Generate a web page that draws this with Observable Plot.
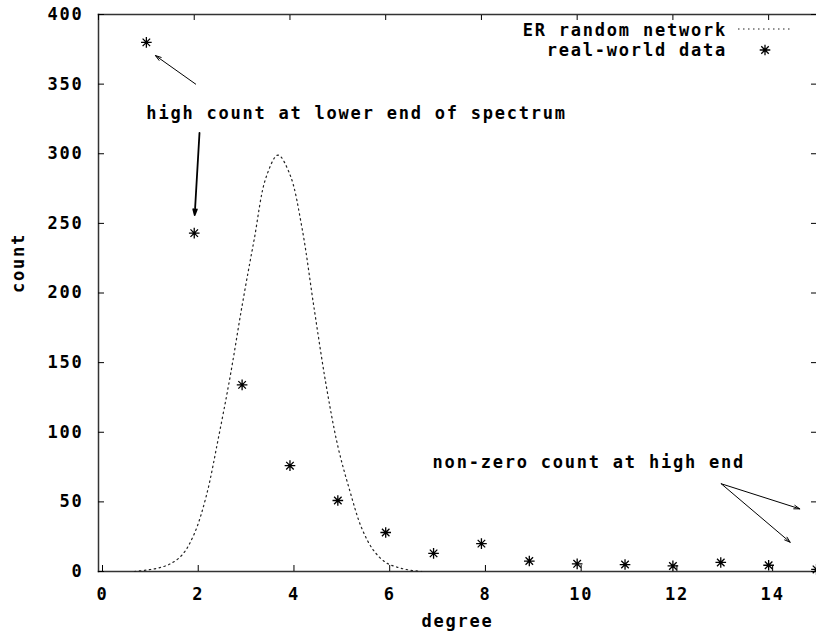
<!DOCTYPE html>
<html>
<head>
<meta charset="utf-8">
<script src="https://cdn.jsdelivr.net/npm/d3@7"></script>
<script src="https://cdn.jsdelivr.net/npm/@observablehq/plot@0.6"></script>
<style>
  html, body { margin: 0; padding: 0; background: white; }
</style>
</head>
<body>
<div id="chart"></div>
<script>
// ---- data ----
const degrees = [1, 2, 3, 4, 5, 6, 7, 8, 9, 10, 11, 12, 13, 14, 15];
const counts  = [380, 243, 134, 76, 51, 28, 13, 20, 7.5, 5.5, 5, 4, 6.5, 4.5, 1.5];

const erX = [0.75, 1.0, 1.25, 1.5, 1.75, 2.0, 2.25, 2.5, 2.75, 3.0, 3.25, 3.5, 3.75, 4.0, 4.25, 4.5, 4.75, 5.0, 5.25, 5.5, 5.75, 6.0, 6.25, 6.5, 6.75];
const erY = [0, 1, 2.5, 5.5, 12, 27, 54, 95, 140, 191, 238, 283, 299, 285, 247, 190, 135, 90, 58, 31, 15, 6.5, 3, 1, 0];

const xTicks = [0, 2, 4, 6, 8, 10, 12, 14];
const yTicks = [0, 50, 100, 150, 200, 250, 300, 350, 400];

const seriesNames = ["ER random network", "real-world data"];

const annoTexts = ["high count at lower end of spectrum", "non-zero count at high end"];
const annoX = [1, 6.98];
const annoY = [329, 78.5];

const arrowX1 = [2.03, 2.11, 13.01, 13.01];
const arrowY1 = [350, 315, 63, 63];
const arrowX2 = [1.19, 2.01, 14.65, 14.45];
const arrowY2 = [370.5, 256, 45, 21];

// ---- build tables ----
const points = degrees.map((d, i) => ({degree: d, count: counts[i]}));
const er = erX.map((x, i) => ({degree: x, count: erY[i]}));
const annos = annoTexts.map((t, i) => ({text: t, x: annoX[i], y: annoY[i]}));
const arrows = arrowX1.map((x, i) => ({x1: x, y1: arrowY1[i], x2: arrowX2[i], y2: arrowY2[i], w: i === 1 ? 1.8 : 1}));

// 8-armed asterisk like gnuplot point type 3
const star8 = {
  draw(context, size) {
    const r = Math.sqrt(size) / 2;
    const d = r * Math.SQRT1_2;
    context.moveTo(-r, 0); context.lineTo(r, 0);
    context.moveTo(0, -r); context.lineTo(0, r);
    context.moveTo(-d, -d); context.lineTo(d, d);
    context.moveTo(-d, d); context.lineTo(d, -d);
  }
};

// legend mark drawn relative to frame
function legend(index, scales, values, dims) {
  const g = d3.create("svg:g");
  const right = dims.width - dims.marginRight;
  const top = dims.marginTop;
  g.append("text").attr("x", right - 89).attr("y", top + 16)
    .attr("text-anchor", "end").attr("dy", "0.35em").text(seriesNames[0]);
  g.append("text").attr("x", right - 89).attr("y", top + 36)
    .attr("text-anchor", "end").attr("dy", "0.35em").text(seriesNames[1]);
  g.append("line").attr("x1", right - 78).attr("x2", right - 23)
    .attr("y1", top + 15).attr("y2", top + 15)
    .attr("stroke", "#222").attr("stroke-width", 1.2).attr("stroke-dasharray", "1.5,3.5");
  const r = 5.3, d = r * Math.SQRT1_2;
  const cx = right - 51, cy = top + 36;
  g.append("path")
    .attr("d", `M${cx - r},${cy}L${cx + r},${cy}M${cx},${cy - r}L${cx},${cy + r}M${cx - d},${cy - d}L${cx + d},${cy + d}M${cx - d},${cy + d}L${cx + d},${cy - d}`)
    .attr("stroke", "black").attr("stroke-width", 1.3).attr("fill", "none");
  return g.node();
}

const chart = Plot.plot({
  width: 816,
  height: 633,
  marginLeft: 98,
  marginRight: 0,
  marginTop: 14,
  marginBottom: 62,
  style: "font-family: 'DejaVu Sans Mono', monospace; font-size: 17px; font-weight: bold; letter-spacing: 1.78px; background: white; color: black;",
  x: {domain: [0, 15]},
  y: {domain: [0, 400]},
  marks: [
    Plot.frame({anchor: "top", stroke: "#333", strokeWidth: 1.5}),
    Plot.frame({anchor: "left", stroke: "#333", strokeWidth: 1.5}),
    Plot.frame({anchor: "bottom", stroke: "#333", strokeWidth: 1.5}),
    Plot.axisX({anchor: "bottom", ticks: xTicks, tickSize: -6, tickPadding: 22, dx: 4, label: null, tickFormat: d => String(d)}),
    Plot.axisX({anchor: "top", ticks: xTicks, tickSize: -5, label: null, tickFormat: () => ""}),
    Plot.axisY({anchor: "left", ticks: yTicks, tickSize: -6, tickPadding: 21, label: null, tickFormat: d => String(d)}),
    Plot.axisY({anchor: "right", ticks: yTicks, tickSize: -6, label: null, tickFormat: () => ""}),
    Plot.text(["degree"], {frameAnchor: "bottom", dy: 55}),
    Plot.text(["count"], {frameAnchor: "left", dx: -80, rotate: -90}),
    Plot.line(er, {x: "degree", y: "count", curve: "catmull-rom", stroke: "#222", strokeWidth: 1.2, strokeDasharray: "1.5,3.5"}),
    Plot.dot(points, {x: "degree", y: "count", symbol: star8, r: 6, stroke: "black", strokeWidth: 1.3, fill: "none"}),
    Plot.text(annos, {x: "x", y: "y", text: "text", textAnchor: "start"}),
    Plot.arrow(arrows, {x1: "x1", y1: "y1", x2: "x2", y2: "y2", stroke: "black", strokeWidth: "w", headLength: 9, headAngle: 35}),
    legend
  ]
});
document.getElementById("chart").appendChild(chart);
</script>
</body>
</html>
